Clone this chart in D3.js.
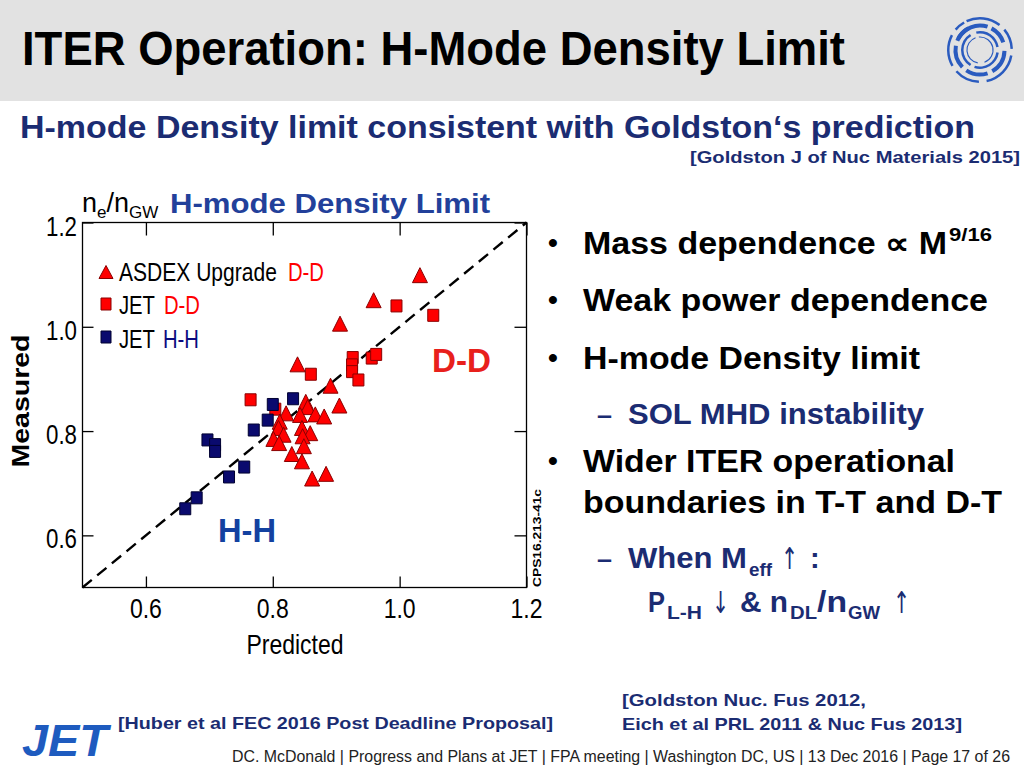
<!DOCTYPE html>
<html><head><meta charset="utf-8">
<script src="https://cdn.jsdelivr.net/npm/d3@7"></script>
<style>body{margin:0;background:#fff}svg{display:block}</style>
</head><body>
<svg id="c" width="1024" height="768"></svg>
<script>
// ---- data ----
const xTicks = [0.6, 0.8, 1.0, 1.2];
const yTicks = [0.6, 0.8, 1.0, 1.2];
const tickLabels = ["0.6", "0.8", "1.0", "1.2"];
const asdexPred = [1.032,0.959,0.906,0.839,0.891,0.905,0.852,0.855,0.821,0.843,0.867,0.881,0.811,0.809,0.846,0.859,0.817,0.801,0.810,0.847,0.849,0.830,0.846,0.862,0.884];
const asdexMeas = [1.099,1.051,1.006,0.928,0.887,0.849,0.856,0.846,0.834,0.831,0.832,0.828,0.818,0.806,0.806,0.796,0.793,0.785,0.777,0.790,0.771,0.756,0.742,0.709,0.718];
const jetDDPred = [0.995,1.053,0.926,0.925,0.925,0.935,0.956,0.963,0.860,0.765,0.804];
const jetDDMeas = [1.040,1.022,0.941,0.927,0.914,0.898,0.940,0.947,0.909,0.860,0.842];
const jetHHPred = [0.662,0.680,0.731,0.755,0.697,0.709,0.709,0.770,0.792,0.800,0.832];
const jetHHMeas = [0.651,0.672,0.712,0.731,0.783,0.774,0.761,0.802,0.821,0.851,0.862];
const legendNames = ["ASDEX Upgrade", "JET", "JET"];
const legendTags = ["D-D", "D-D", "H-H"];
const domain = [0.5, 1.2];

const RED = "#ff0000", RED_S = "#8a0000", NAVY = "#0a0a6e", NAVY_S = "#000030";
const TXTBLUE = "#1b2c72";
const NARROW = "'Liberation Sans Narrow','Arial Narrow','Liberation Sans',Arial,sans-serif";
const SANS = "'Liberation Sans',Arial,Helvetica,sans-serif";

const svg = d3.select("#c");

// fit a text horizontally to a width by scaling it (keeps the bbox honest)
function fitText(sel, x0, y0, width){
  const w = sel.node().getComputedTextLength();
  sel.attr("x",0).attr("y",0).attr("transform",`translate(${x0},${y0}) scale(${width/w},1)`);
  return sel;
}

// ---- slide header ----
svg.append("rect").attr("x",0).attr("y",0).attr("width",1024).attr("height",101).attr("fill","#e2e2e2");
svg.append("text").attr("x",22).attr("y",65).attr("font-family",SANS).attr("font-weight","bold")
  .attr("font-size",48).attr("textLength",823).attr("lengthAdjust","spacingAndGlyphs").attr("fill","#000")
  .text("ITER Operation: H-Mode Density Limit");

// logo
const logo = svg.append("g").attr("transform","translate(980,50)").attr("fill","#2a5bbf");
const ring = (r0,r1,segs)=>segs.forEach(s=>logo.append("path").attr("d",d3.arc()({innerRadius:r0,outerRadius:r1,startAngle:s[0]*Math.PI/180,endAngle:s[1]*Math.PI/180})));
ring(30.5,33,[[-25,38],[50,88],[100,168],[182,228],[240,298],[310,330]]);
ring(22.5,26.5,[[-62,18],[28,72],[92,150],[162,214],[226,280],[292,332]]);
ring(16.5,19,[[-12,80],[98,198],[212,328]]);
ring(12.5,13.6,[[-170,-20],[-5,160]]);

// subtitle
svg.append("text").attr("x",20).attr("y",138).attr("font-family",SANS).attr("font-weight","bold")
  .attr("font-size",32).attr("textLength",955).attr("lengthAdjust","spacingAndGlyphs").attr("fill",TXTBLUE)
  .text("H-mode Density limit consistent with Goldston\u2018s prediction");
svg.append("text").attr("x",690).attr("y",163).attr("font-family",SANS).attr("font-weight","bold")
  .attr("font-size",17).attr("textLength",330).attr("lengthAdjust","spacingAndGlyphs").attr("fill",TXTBLUE)
  .text("[Goldston  J of Nuc Materials 2015]");

// ---- chart ----
const x = d3.scaleLinear().domain(domain).range([82.5, 526.5]);
const y = d3.scaleLinear().domain(domain).range([587.5, 222.5]);
const g = svg.append("g");

g.append("rect").attr("x",x(0.5)).attr("y",y(1.2)).attr("width",x(1.2)-x(0.5)).attr("height",y(0.5)-y(1.2))
  .attr("fill","#fff").attr("stroke","#000").attr("stroke-width",1.3);

// inward ticks on all four sides
const axB = d3.axisBottom(x).tickValues(xTicks).tickSize(-11).tickFormat("");
const axT = d3.axisTop(x).tickValues(xTicks).tickSize(-13).tickFormat("");
const axL = d3.axisLeft(y).tickValues(yTicks).tickSize(-11).tickFormat("");
const axR = d3.axisRight(y).tickValues(yTicks).tickSize(-12).tickFormat("");
[[axB,`translate(0,${y(0.5)})`],[axT,`translate(0,${y(1.2)})`],[axL,`translate(${x(0.5)},0)`],[axR,`translate(${x(1.2)},0)`]]
 .forEach(([a,t])=>{const s=g.append("g").attr("transform",t).call(a); s.select(".domain").remove(); s.selectAll("line").attr("stroke","#000").attr("stroke-width",1.3);});

// tick labels
g.selectAll(".xl").data(xTicks).join("text").attr("class","xl")
  .attr("x",d=>x(d)).attr("y",618).attr("text-anchor","middle").attr("font-family",NARROW)
  .attr("font-size",27).attr("textLength",32).attr("lengthAdjust","spacingAndGlyphs").text((d,i)=>tickLabels[i]);
g.selectAll(".yl").data(yTicks).join("text").attr("class","yl")
  .attr("x",77).attr("y",d=>y(d)+13).attr("text-anchor","end").attr("font-family",NARROW)
  .attr("font-size",28).attr("textLength",31).attr("lengthAdjust","spacingAndGlyphs").text((d,i)=>tickLabels[i]);

// axis titles
g.append("text").attr("x",295).attr("y",654).attr("text-anchor","middle").attr("font-family",NARROW)
  .attr("font-size",28).attr("textLength",97).attr("lengthAdjust","spacingAndGlyphs").text("Predicted");
g.append("text").attr("transform","translate(29,401) rotate(-90)").attr("text-anchor","middle")
  .attr("font-family",SANS).attr("font-weight","bold").attr("font-size",23)
  .attr("textLength",133).attr("lengthAdjust","spacingAndGlyphs").text("Measured");

const ne = g.append("text").attr("x",82).attr("y",212).attr("font-family",NARROW).attr("font-size",27);
ne.append("tspan").text("n");
ne.append("tspan").attr("font-size",17).attr("dy",6).text("e");
ne.append("tspan").attr("dy",-6).text("/n");
ne.append("tspan").attr("font-size",17).attr("dy",6).text("GW");
g.append("text").attr("x",170).attr("y",213).attr("font-family",SANS).attr("font-weight","bold")
  .attr("font-size",28).attr("textLength",320).attr("lengthAdjust","spacingAndGlyphs").attr("fill","#22409a")
  .text("H-mode Density Limit");

// diagonal y = x
g.append("line").attr("x1",x(0.5)).attr("y1",y(0.5)).attr("x2",x(1.2)).attr("y2",y(1.2))
  .attr("stroke","#000").attr("stroke-width",2.4).attr("stroke-dasharray","12,7");

const tri = (w,h)=>`M0,${-h/2}L${w/2},${h/2}L${-w/2},${h/2}Z`;
const sq = (w,h)=>`M${-w/2},${-h/2}h${w}v${h}h${-w}Z`;

g.selectAll(".jdd").data(jetDDPred).join("path").attr("class","jdd")
  .attr("transform",(d,i)=>`translate(${x(d)},${y(jetDDMeas[i])})`).attr("d",sq(11,12))
  .attr("fill",RED).attr("stroke",RED_S).attr("stroke-width",1);
g.selectAll(".jhh").data(jetHHPred).join("path").attr("class","jhh")
  .attr("transform",(d,i)=>`translate(${x(d)},${y(jetHHMeas[i])})`).attr("d",sq(11,12))
  .attr("fill",NAVY).attr("stroke",NAVY_S).attr("stroke-width",1);
g.selectAll(".aug").data(asdexPred).join("path").attr("class","aug")
  .attr("transform",(d,i)=>`translate(${x(d)},${y(asdexMeas[i])})`).attr("d",tri(15,15))
  .attr("fill",RED).attr("stroke",RED_S).attr("stroke-width",1);

// legend
g.append("path").attr("transform","translate(106,272)").attr("d",tri(14,13)).attr("fill",RED).attr("stroke",RED_S);
g.append("path").attr("transform","translate(106,304)").attr("d",sq(10,12)).attr("fill",RED).attr("stroke",RED_S);
g.append("path").attr("transform","translate(106,337)").attr("d",sq(10,12)).attr("fill",NAVY).attr("stroke",NAVY_S);
const legY = [281, 314, 347.5], legW1 = [158, 36, 36], legX2 = [288, 164, 163], legCol = [RED, RED, "#0b0b80"];
legendNames.forEach((nm,i)=>{
  fitText(g.append("text").attr("font-family",NARROW).attr("font-size",26).attr("fill","#000").text(nm), 119, legY[i], legW1[i]);
  fitText(g.append("text").attr("font-family",NARROW).attr("font-size",26).attr("fill",legCol[i]).text(legendTags[i]), legX2[i], legY[i], 36);
});

g.append("text").attr("x",432).attr("y",372).attr("font-family",SANS).attr("font-weight","bold")
  .attr("font-size",33).attr("textLength",59).attr("lengthAdjust","spacingAndGlyphs").attr("fill","#e8201c").text("D-D");
g.append("text").attr("x",218).attr("y",542).attr("font-family",SANS).attr("font-weight","bold")
  .attr("font-size",33).attr("textLength",58).attr("lengthAdjust","spacingAndGlyphs").attr("fill","#1341a0").text("H-H");
g.append("text").attr("transform","translate(541,587) rotate(-90)").attr("font-family",SANS).attr("font-weight","bold")
  .attr("font-size",11).attr("textLength",98).attr("lengthAdjust","spacingAndGlyphs").text("CPS16.213-41c");

// ---- bullets ----
const B = svg.append("g").attr("font-family",SANS).attr("font-weight","bold");
const line = (xx,yy,txt,size,len,col)=>{const t=B.append("text").attr("x",xx).attr("y",yy).attr("font-size",size).attr("fill",col||"#000").text(txt); if(len) t.attr("textLength",len).attr("lengthAdjust","spacingAndGlyphs"); return t;};
const arrow = (xx,yy,ch)=>B.append("text").attr("x",xx).attr("y",yy).attr("font-family","'DejaVu Sans',sans-serif")
  .attr("font-weight","normal").attr("font-size",30).attr("fill",TXTBLUE).attr("textLength",17).attr("lengthAdjust","spacingAndGlyphs").text(ch);
[254,311,369,472].forEach(yy=>line(548,yy-2,"\u2022",28,null));
line(583,254,"Mass dependence \u221D M",31,364);
line(949,241,"9/16",19,43);
line(583,311,"Weak power dependence",31,405);
line(583,369,"H-mode Density limit",31,337);
line(597,424,"\u2013",26,15,TXTBLUE);
line(628,424,"SOL MHD instability",29,296,TXTBLUE);
line(583,472,"Wider ITER operational",31,372);
line(583,513,"boundaries in T-T and D-T",31,419);
line(597,568,"\u2013",26,15,TXTBLUE);
line(628,568,"When M",29,119,TXTBLUE);
line(749,576,"eff",19,23,TXTBLUE);
arrow(781,569,"\u2191");
line(810,568,":",29,null,TXTBLUE);
line(648,612,"P",29,17,TXTBLUE);
line(667,619,"L-H",19,35,TXTBLUE);
arrow(712,613,"\u2193");
line(740,612,"& n",29,48,TXTBLUE);
line(790,619,"DL",19,27,TXTBLUE);
line(817,612,"/n",29,30,TXTBLUE);
line(848,619,"GW",19,32,TXTBLUE);
arrow(893,613,"\u2191");

// ---- footer ----
line(622,706,"[Goldston Nuc. Fus  2012,",17,244,TXTBLUE);
line(622,730,"Eich et al PRL 2011 & Nuc Fus 2013]",17,340,TXTBLUE);
line(118,729,"[Huber et al FEC 2016 Post Deadline Proposal]",17,435,TXTBLUE);
B.append("text").attr("x",22).attr("y",756).attr("font-size",44).attr("font-style","italic").attr("fill","#1e5bbf")
  .attr("textLength",86).attr("lengthAdjust","spacingAndGlyphs").text("JET");
svg.append("text").attr("x",232).attr("y",762).attr("font-family",NARROW).attr("font-size",16).attr("fill","#222")
  .attr("textLength",778).attr("lengthAdjust","spacingAndGlyphs")
  .text("DC. McDonald | Progress and Plans at JET | FPA meeting  | Washington DC, US | 13 Dec 2016 | Page 17 of 26");
</script>
</body></html>
